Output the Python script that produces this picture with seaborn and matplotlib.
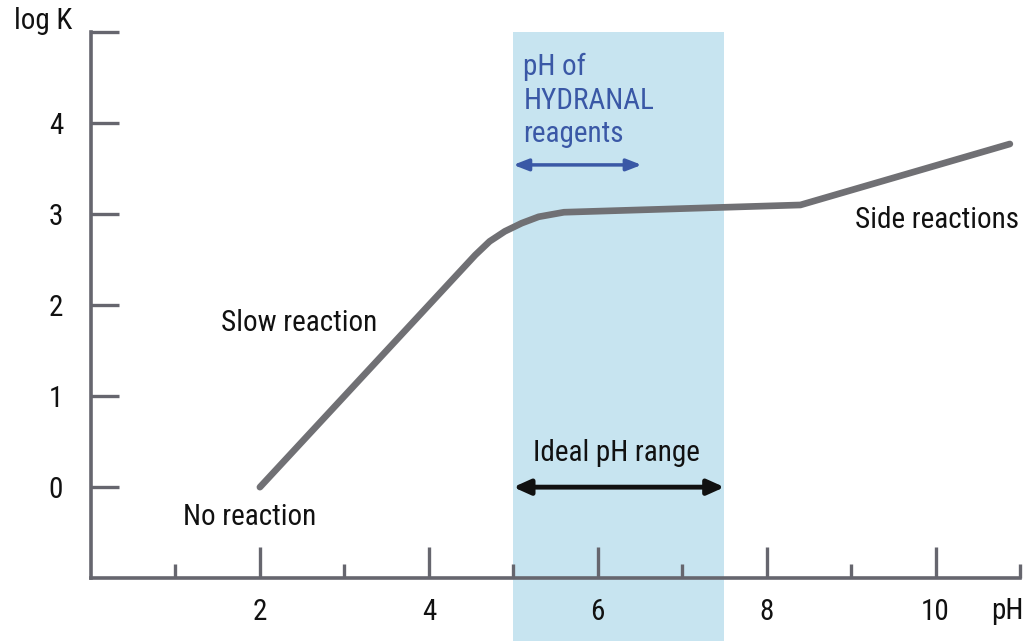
import matplotlib
matplotlib.use("Agg")
import matplotlib.pyplot as plt
import seaborn as sns
import pandas as pd
from matplotlib import font_manager

# ---- data ----
ph_values = [2.0, 4.55, 4.72, 4.9, 5.1, 5.3, 5.6, 8.4, 10.88]
logk_values = [0.0, 2.55, 2.70, 2.81, 2.90, 2.97, 3.02, 3.10, 3.77]
x_major_ticks = [2, 4, 6, 8, 10]
x_minor_ticks = [1, 3, 5, 7, 9, 11]
y_ticks = [0, 1, 2, 3, 4]
ideal_range = (5.0, 7.5)
reagent_range = (5.0, 6.52)

sns.set_style("white")
names = {f.name for f in font_manager.fontManager.ttflist}
fam = [f for f in ["Liberation Sans Narrow", "Roboto Condensed", "DejaVu Sans"] if f in names]
plt.rcParams['font.family'] = fam

axis_col = "#66666e"
txt_col = "#111111"
fs = 21
fig = plt.figure(figsize=(10.26, 6.41), dpi=100)
ax = fig.add_axes([91 / 1026, 0, 929 / 1026, 609 / 641])
ax.set_xlim(0, 11)
ax.set_ylim(-1.69, 5)

ax.axvspan(*ideal_range, color="#c7e4f0", zorder=0, lw=0)

df = pd.DataFrame({"pH": ph_values, "logK": logk_values})
sns.lineplot(data=df, x="pH", y="logK", ax=ax, color="#707074", lw=4.8,
             solid_capstyle="round", solid_joinstyle="round", zorder=3)

for s in ["top", "right"]:
    ax.spines[s].set_visible(False)
ax.spines["left"].set_bounds(-1, 5)
ax.spines["bottom"].set_position(("data", -1))
ax.spines["bottom"].set_bounds(0, 11)
for s in ["left", "bottom"]:
    ax.spines[s].set_color(axis_col)
    ax.spines[s].set_linewidth(2.6)

ax.set_xticks(x_major_ticks)
ax.set_xticklabels([str(v) for v in x_major_ticks])
ax.set_xticks(x_minor_ticks, minor=True)
ax.set_yticks(y_ticks + [5])
ax.set_yticklabels([str(v) for v in y_ticks] + [""])
ax.tick_params(axis="x", which="both", bottom=True, top=False)
ax.tick_params(axis="y", which="both", left=True, right=False)
ax.tick_params(axis="x", which="major", direction="in", length=22, width=2.4,
               color=axis_col, pad=14, labelsize=fs, labelcolor=txt_col)
ax.tick_params(axis="x", which="minor", direction="in", length=10, width=2.4,
               color=axis_col)
ax.tick_params(axis="y", which="major", direction="in", length=20, width=2.4,
               color=axis_col, pad=20, labelsize=fs, labelcolor=txt_col)
ax.set_xlabel("")
ax.set_ylabel("")

fig.text(14 / 1026, 1 - 21 / 641, "log K", fontsize=fs, va="center", ha="left", color=txt_col)
ax.text(11.04, -1.36, "pH", fontsize=fs, va="center", ha="right", color=txt_col)

ax.text(2.47, 1.80, "Slow reaction", fontsize=fs, ha="center", va="center", color=txt_col)
ax.text(1.88, -0.33, "No reaction", fontsize=fs, ha="center", va="center", color=txt_col)
ax.text(10.02, 2.93, "Side reactions", fontsize=fs, ha="center", va="center", color=txt_col)
ax.text(6.22, 0.37, "Ideal pH range", fontsize=fs, ha="center", va="center", color=txt_col)
ax.text(5.12, 4.77, "pH of\nHYDRANAL\nreagents", fontsize=fs, ha="left", va="top",
        color="#3a58a6", linespacing=1.25)

ax.annotate("", xy=(ideal_range[0], 0), xytext=(ideal_range[1], 0),
            arrowprops=dict(arrowstyle="<|-|>,head_length=1.0,head_width=0.45",
                            color="#111111", lw=3.5, shrinkA=0, shrinkB=0))
ax.annotate("", xy=(reagent_range[0], 3.54), xytext=(reagent_range[1], 3.54),
            arrowprops=dict(arrowstyle="<|-|>,head_length=0.9,head_width=0.35",
                            color="#3a58a6", lw=2.5, shrinkA=0, shrinkB=0))

fig.savefig("out.png", dpi=100)
